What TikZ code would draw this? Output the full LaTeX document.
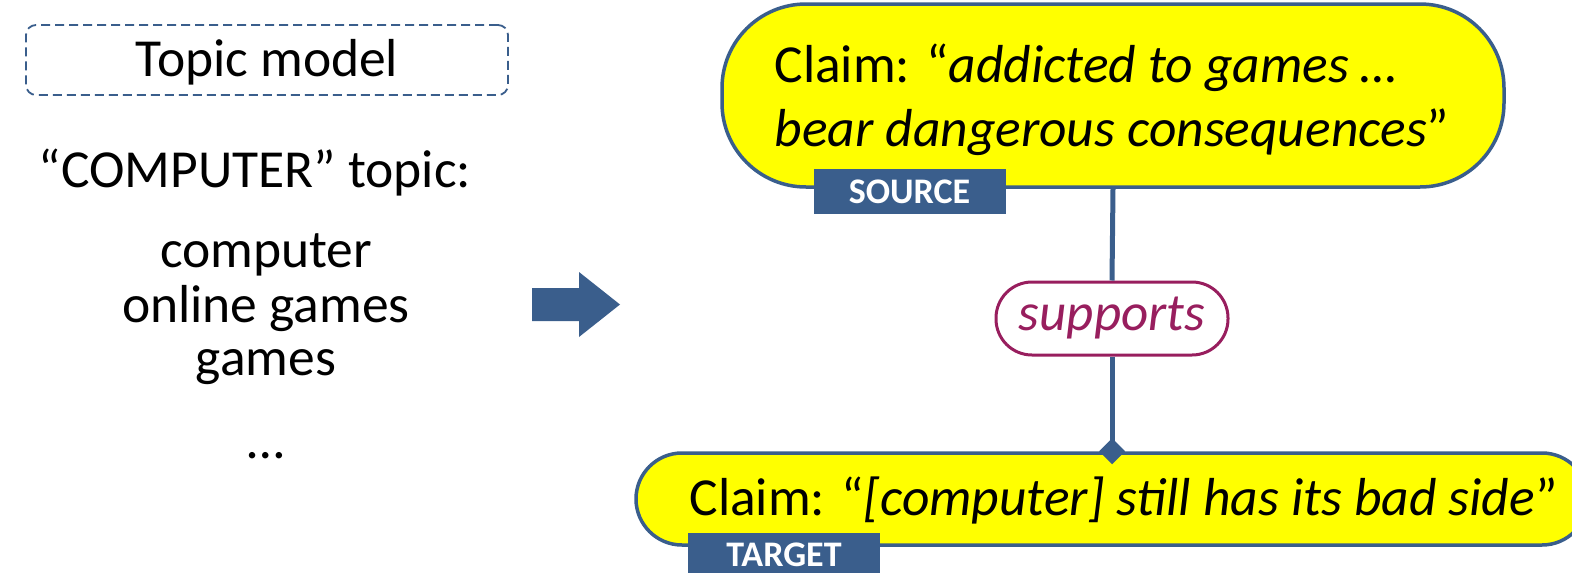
\documentclass[tikz,border=0pt]{standalone}
\usepackage{fontspec}
\setmainfont{Carlito}
\usetikzlibrary{arrows.meta}
\definecolor{dblue}{RGB}{58,94,140}
\definecolor{plum}{RGB}{152,30,94}
\definecolor{cyel}{RGB}{255,255,0}
\tikzset{
  big/.style={font=\fontsize{53.5}{62}\selectfont},
  claimbox/.style={draw=dblue, line width=3.5pt, fill=cyel},
  tagbox/.style={fill=dblue, text=white, inner sep=0pt, minimum width=192pt, minimum height=45pt,
    font=\bfseries\fontsize{36}{36}\selectfont},
  relbox/.style={draw=plum, line width=3pt, fill=white, text=plum, rounded corners=36pt,
    minimum width=232pt, minimum height=73pt, inner sep=0pt, font=\itshape\fontsize{53}{62}\selectfont},
  link/.style={draw=dblue, line width=5pt},
}
\begin{document}
\begin{tikzpicture}[x=1pt,y=-1pt]
\useasboundingbox (0,0) rectangle (1572,573);
% left side
\node[draw=dblue, line width=1.8pt, dash pattern=on 9pt off 5pt, rounded corners=10pt,
  minimum width=482pt, minimum height=70pt] (tm) at (267,60) {};
\node[big, anchor=base] (tmt) at (267,76) {Topic model};
\node[big, anchor=base] (ct) at (255,187) {“COMPUTER” topic:};
\node[big, anchor=base] (w1) at (266,267) {computer};
\node[big, anchor=base] (w2) at (266,322) {online games};
\node[big, anchor=base] (w3) at (266,375) {games};
\node[big, anchor=base] (w4) at (266,458) {…};
% arrow
\fill[dblue] (532,288) -- (579,288) -- (579,272) -- (620,304.5) -- (579,337) -- (579,321) -- (532,321) -- cycle;
% source claim
\node[claimbox, rounded corners=84pt, minimum width=782pt, minimum height=183pt] (src) at (1113,95.5) {};
\node[big, anchor=base west] (s1) at (771,82) {Claim: “\textit{addicted to games …}};
\node[big, anchor=base west] (s2) at (771,146) {\textit{bear dangerous consequences}”};
\node[tagbox] (srcl) at (909.5,191.5) {SOURCE};
% target claim
\node[claimbox, rounded corners=46pt, minimum width=952pt, minimum height=92pt] (tgt) at (1112,499) {};
\node[big, anchor=base west] (t1) at (686,515) {Claim: “\textit{[computer] still has its bad side}”};
\node[tagbox] (tgtl) at (784,555) {TARGET};
% relation
\node[relbox] (sup) at (1112,318.5) {supports};
\draw[link] (src.south) -- (sup.north);
\draw[link, -{Diamond[length=26pt,width=26pt]}, shorten >=-13pt] (sup.south) -- (tgt.north);
\end{tikzpicture}
\end{document}
